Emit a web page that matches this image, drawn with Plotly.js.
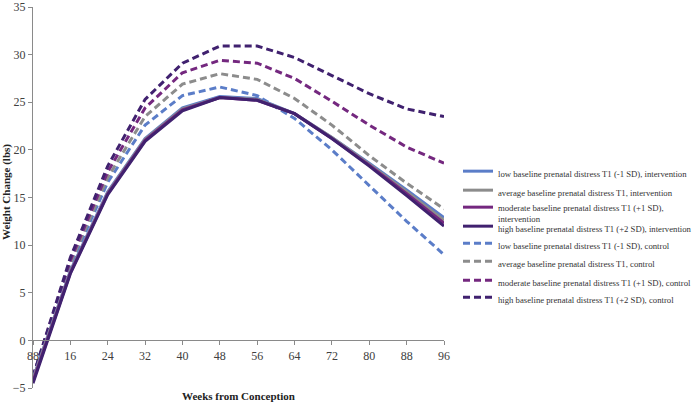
<!DOCTYPE html>
<html>
<head>
<meta charset="utf-8">
<script src="https://cdn.plot.ly/plotly-3.0.1.min.js"></script>
<style>html,body{margin:0;padding:0;background:#fff;}#chart{width:694px;height:403px;}</style>
</head>
<body>
<div id="chart"></div>
<script>
// ---- data ----
const weeks = [8, 16, 24, 32, 40, 48, 56, 64, 72, 80, 88, 96];
const tickLabels = ["88", "16", "24", "32", "40", "48", "56", "64", "72", "80", "88", "96"];
const yTicks = [-5, 0, 5, 10, 15, 20, 25, 30, 35];

const lowIntervention  = [-4.0, 7.3, 15.6, 21.2, 24.4, 25.6, 25.4, 23.8, 21.3, 18.6, 15.8, 12.9];
const avgIntervention  = [-4.1, 7.2, 15.5, 21.1, 24.3, 25.5, 25.3, 23.8, 21.3, 18.5, 15.6, 12.6];
const modIntervention  = [-4.3, 7.1, 15.4, 21.0, 24.2, 25.5, 25.2, 23.8, 21.2, 18.4, 15.4, 12.3];
const highIntervention = [-4.5, 7.0, 15.3, 20.9, 24.1, 25.5, 25.2, 23.8, 21.2, 18.3, 15.2, 12.0];
const lowControl  = [-3.8, 7.8, 16.6, 22.6, 25.7, 26.6, 25.7, 23.3, 20.0, 16.3, 12.5, 9.0];
const avgControl  = [-3.8, 8.1, 17.1, 23.5, 26.9, 28.0, 27.4, 25.4, 22.6, 19.4, 16.5, 13.8];
const modControl  = [-3.8, 8.4, 17.7, 24.4, 28.1, 29.4, 29.1, 27.5, 25.1, 22.6, 20.3, 18.6];
const highControl = [-3.8, 8.7, 18.3, 25.3, 29.1, 30.9, 30.9, 29.7, 27.8, 25.9, 24.3, 23.5];

const seriesNames = [
  "low baseline prenatal distress T1 (-1 SD), intervention",
  "average baseline prenatal distress T1, intervention",
  "moderate baseline prenatal distress T1 (+1 SD),<br>intervention",
  "high baseline prenatal distress T1 (+2 SD), intervention",
  "low baseline prenatal distress T1 (-1 SD), control",
  "average baseline prenatal distress T1, control",
  "moderate baseline prenatal distress T1 (+1 SD), control",
  "high baseline prenatal distress T1 (+2 SD), control"
];

// ---- styles ----
const colors = ["#5B7DC8", "#8C8C8C", "#74287F", "#40216F"];
const serif = "Liberation Serif, Times New Roman, serif";
// pixel row (centre) of each legend entry
const legendRows = [173, 192, 209, 228, 245, 263, 282, 299];

const seriesValues = [lowIntervention, avgIntervention, modIntervention, highIntervention,
                      lowControl, avgControl, modControl, highControl];

const legendId = i => (i === 0 ? "legend" : "legend" + (i + 1));

const traces = seriesValues.map((vals, i) => ({
  type: "scatter",
  mode: "lines",
  x: weeks,
  y: vals,
  name: seriesNames[i],
  legend: legendId(i),
  line: {
    color: colors[i % 4],
    width: 3,
    dash: i < 4 ? "solid" : "7px,4px"
  }
}));

// draw control lines underneath, intervention on top
const order = [4, 5, 6, 7, 0, 1, 2, 3];
const data = order.map(i => traces[i]);

const W = 694, H = 403;
const L = 33, R = 250, T = 7, B = 15;
const pw = W - L - R, ph = H - T - B;
const px = p => (p - L) / pw;
const py = p => (H - B - p) / ph;

const layout = {
  width: W, height: H,
  margin: {l: L, r: R, t: T, b: B, pad: 0, autoexpand: false},
  paper_bgcolor: "#fff", plot_bgcolor: "#fff",
  font: {family: serif, size: 12, color: "#404040"},
  showlegend: true,
  xaxis: {
    range: [8, 96],
    tickmode: "array", tickvals: weeks, ticktext: tickLabels,
    anchor: "free", position: 5 / 40,
    showline: true, linecolor: "#8a8a8a", linewidth: 1,
    ticks: "outside", ticklen: 4, tickcolor: "#8a8a8a",
    showgrid: false, zeroline: false, ticklabeloverflow: "allow",
    tickfont: {family: serif, size: 12, color: "#404040"}
  },
  yaxis: {
    range: [-5, 35],
    tickmode: "array", tickvals: yTicks,
    showline: true, linecolor: "#8a8a8a", linewidth: 1,
    ticks: "outside", ticklen: 4, tickcolor: "#8a8a8a",
    showgrid: false, zeroline: false, ticklabeloverflow: "allow",
    tickfont: {family: serif, size: 12, color: "#404040"}
  },
  annotations: [
    {text: "<b>Weeks from Conception</b>", xref: "paper", yref: "paper",
     x: px(238), y: py(396), xanchor: "center", yanchor: "middle", showarrow: false,
     font: {family: serif, size: 11, color: "#222"}},
    {text: "<b>Weight Change (lbs)</b>", xref: "paper", yref: "paper",
     x: px(7), y: py(192), xanchor: "center", yanchor: "middle", showarrow: false,
     textangle: -90, font: {family: serif, size: 11, color: "#222"}}
  ]
};

legendRows.forEach((row, i) => {
  layout[legendId(i)] = {
    x: px(458), y: py(row - 14), xanchor: "left", yanchor: "top",
    valign: "top",
    font: {family: serif, size: 8.7, color: "#333"},
    itemwidth: 30, bgcolor: "rgba(0,0,0,0)"
  };
});

Plotly.newPlot("chart", data, layout, {displayModeBar: false, staticPlot: true});
</script>
</body>
</html>
